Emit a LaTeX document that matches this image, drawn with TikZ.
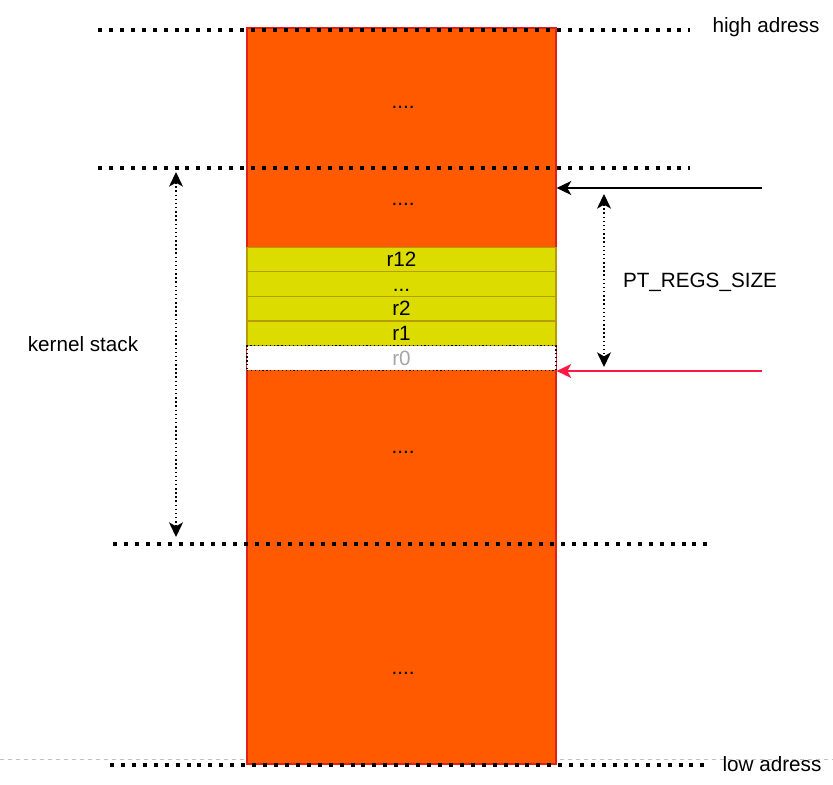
\documentclass[tikz,border=0pt]{standalone}
\usepackage{fontspec}
\setmainfont{Liberation Sans}
\usepackage{xcolor}
\usetikzlibrary{arrows.meta,calc,positioning}

\definecolor{stackorange}{HTML}{FF5A00}
\definecolor{stackred}{HTML}{E0201A}
\definecolor{regyellow}{HTML}{DCDC00}
\definecolor{regborder}{HTML}{B59F00}
\definecolor{ptrred}{HTML}{FF1744}

\tikzset{
  txt/.style={font=\fontsize{15.5}{18}\selectfont,inner sep=0pt,
    text height=14pt,text depth=3.3pt},
  regbox/.style={txt,draw=regborder,fill=regyellow,line width=0.9pt,outer sep=0pt,
    minimum width=231.75pt,minimum height=18.45pt},
  bound/.style={line width=3pt,dash pattern=on 3pt off 5.2pt},
  tip/.style={-{Stealth[length=11pt,width=10.5pt,inset=3pt]}},
  span/.style={{Stealth[length=11pt,width=10.5pt,inset=3pt]}-{Stealth[length=11pt,width=10.5pt,inset=3pt]},
    line width=1.1pt,dotted}
}

\begin{document}
\begin{tikzpicture}[x=0.75pt,y=-0.75pt]
  \useasboundingbox (0,0) rectangle (833,785);
  % page break line
  \draw[gray!50,dashed,line width=0.6pt] (0,759) -- (833,759);
  % the stack
  \node[draw=stackred,fill=stackorange,line width=0.9pt,minimum width=231.75pt,
    minimum height=552pt,inner sep=0pt] (col) at (401.5,396) {};
  \node[txt] (dots1) at (403,101) {....};
  \node[txt] (dots2) at (403,198) {....};
  \node[txt] (dots3) at (403,446) {....};
  \node[txt] (dots4) at (403,667) {....};
  % saved registers
  \node[regbox] (r12) at (401.5,259.5) {r12};
  \node[regbox,below=0pt of r12] (rmid) {...};
  \node[regbox,below=0pt of rmid] (r2) {r2};
  \node[regbox,below=0pt of r2] (r1) {r1};
  \node[regbox,below=0pt of r1,fill=white,draw=black,dotted,text=black!35] (r0) {r0};
  % address bounds
  \coordinate (hiL) at (98,29.5);   \coordinate (hiR) at (690,29.5);
  \coordinate (ksL) at (98,167.5);  \coordinate (ksR) at (690,167.5);
  \coordinate (keL) at (113,544);   \coordinate (keR) at (707,544);
  \coordinate (loL) at (110,764.5); \coordinate (loR) at (704,764.5);
  \draw[bound] (hiL) -- (hiR);
  \draw[bound] (ksL) -- (ksR);
  \draw[bound] (keL) -- (keR);
  \draw[bound] (loL) -- (loR);
  \node[txt] (high) at (766,25) {high adress};
  \node[txt] (low) at (772,764) {low adress};
  % pointers
  \coordinate (spA) at (762,188);
  \coordinate (spB) at (762,371);
  \draw[tip,line width=1.1pt] (spA) -- (spA -| col.east);
  \draw[tip,line width=1.1pt,ptrred] (spB) -- (spB -| col.east);
  % sizes
  \coordinate (ptT) at (604,194); \coordinate (ptB) at (604,367);
  \draw[span] (ptT) -- (ptB);
  \node[txt] (ptsize) at (700,280) {PT\_REGS\_SIZE};
  \coordinate (ksT) at (176,172); \coordinate (ksB) at (176,537);
  \draw[span] (ksT) -- (ksB);
  \node[txt] (kstack) at (83,344) {kernel stack};
\end{tikzpicture}
\end{document}
